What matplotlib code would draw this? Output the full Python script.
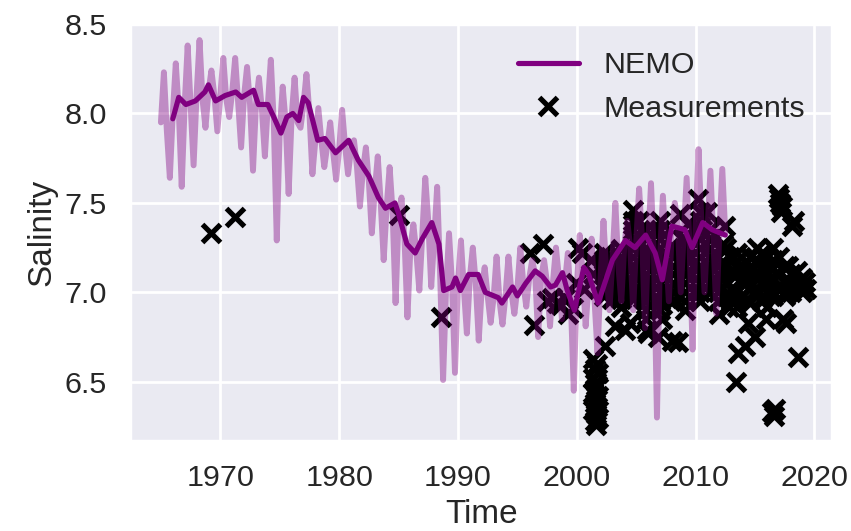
import numpy as np
import matplotlib
matplotlib.use("Agg")
import matplotlib.pyplot as plt
import seaborn as sns

# ---- NEMO monthly-ish raw series (quarter-year steps from 1965.0) ----
light_start = 1965.0
light_step = 0.25
light_v = [
    7.95, 8.23, 7.90, 7.64,   # 1965
    8.00, 8.28, 8.02, 7.59,   # 1966
    8.05, 8.38, 8.05, 7.71,   # 1967
    8.10, 8.41, 8.08, 7.92,   # 1968
    8.12, 8.24, 8.10, 7.90,   # 1969
    8.10, 8.31, 8.08, 7.98,   # 1970
    8.12, 8.31, 8.06, 7.81,   # 1971
    8.10, 8.26, 8.05, 7.68,   # 1972
    8.05, 8.20, 8.02, 7.76,   # 1973
    8.05, 8.30, 7.95, 7.29,   # 1974
    7.90, 8.15, 7.95, 7.55,   # 1975
    7.98, 8.20, 7.95, 7.92,   # 1976
    8.05, 8.22, 8.00, 7.66,   # 1977
    7.85, 8.03, 7.85, 7.70,   # 1978
    7.82, 7.95, 7.78, 7.63,   # 1979
    7.80, 8.02, 7.82, 7.66,   # 1980
    7.80, 7.85, 7.70, 7.48,   # 1981
    7.68, 7.81, 7.62, 7.33,   # 1982
    7.57, 7.76, 7.50, 7.18,   # 1983
    7.48, 7.70, 7.45, 6.94,   # 1984
    7.42, 7.53, 7.30, 6.86,   # 1985
    7.25, 7.38, 7.22, 7.01,   # 1986
    7.32, 7.64, 7.40, 7.03,   # 1987
    7.30, 7.59, 7.10, 6.51,   # 1988
    7.02, 7.33, 7.05, 6.55,   # 1989
    7.05, 7.29, 7.02, 6.77,   # 1990
    7.08, 7.25, 7.05, 6.73,   # 1991
    7.02, 7.14, 6.98, 6.83,   # 1992
    6.97, 7.20, 6.95, 6.82,   # 1993
    6.98, 7.20, 7.00, 6.88,   # 1994
    7.02, 7.25, 7.05, 6.92,   # 1995
    7.08, 7.18, 7.10, 6.75,   # 1996
    7.08, 7.18, 7.05, 6.81,   # 1997
    7.06, 7.25, 7.08, 6.85,   # 1998
    7.05, 7.22, 6.95, 6.45,   # 1999
    7.02, 7.32, 7.10, 6.81,   # 2000
    7.05, 7.30, 6.95, 6.66,   # 2001
    7.08, 7.40, 7.10, 6.90,   # 2002
    7.18, 7.50, 7.15, 6.95,   # 2003
    7.26, 7.40, 7.25, 6.90,   # 2004
    7.28, 7.58, 7.30, 6.80,   # 2005
    7.25, 7.61, 7.20, 6.30,   # 2006
    7.20, 7.54, 7.25, 6.95,   # 2007
    7.35, 7.50, 7.38, 7.00,   # 2008
    7.32, 7.64, 7.25, 6.68,   # 2009
    7.36, 7.80, 7.38, 7.00,   # 2010
    7.34, 7.68, 7.30, 6.88,   # 2011
    7.33, 7.69, 7.33,         # 2012
]

# ---- NEMO smoothed (running mean) ----
smooth_t = [1966.0, 1966.5, 1967.1, 1967.9, 1968.7, 1969.0, 1969.6, 1970.4, 1971.3,
            1971.8, 1972.8, 1973.2, 1974.0, 1974.5, 1975.1, 1975.6, 1976.1, 1976.6,
            1977.0, 1977.4, 1978.2, 1978.8, 1979.7, 1980.8, 1981.6, 1982.5, 1983.3,
            1983.9, 1984.7, 1985.0, 1985.7, 1986.4, 1987.0, 1987.8, 1988.4, 1988.8,
            1989.5, 1989.8, 1990.2, 1990.9, 1991.7, 1992.3, 1993.4, 1993.7, 1994.6,
            1995.0, 1995.7, 1996.5, 1997.1, 1997.8, 1998.2, 1998.8, 1999.2, 1999.8,
            2000.6, 2001.0, 2001.8, 2003.0, 2004.1, 2004.9, 2005.8, 2006.6, 2007.2,
            2008.0, 2008.6, 2009.1, 2009.7, 2010.6, 2011.4, 2012.5]
smooth_v = [7.97, 8.09, 8.05, 8.07, 8.12, 8.16, 8.07, 8.10, 8.12,
            8.09, 8.13, 8.05, 8.05, 7.98, 7.89, 7.98, 8.00, 7.96,
            8.09, 8.06, 7.85, 7.86, 7.78, 7.85, 7.74, 7.65, 7.53,
            7.47, 7.50, 7.44, 7.27, 7.22, 7.30, 7.39, 7.27, 7.01,
            7.03, 7.08, 7.01, 7.10, 7.10, 7.00, 6.97, 6.94, 7.03,
            6.98, 7.05, 7.12, 7.09, 7.03, 7.04, 7.11, 7.01, 6.90,
            7.14, 7.10, 6.94, 7.18, 7.29, 7.25, 7.32, 7.22, 7.07,
            7.37, 7.36, 7.35, 7.25, 7.39, 7.35, 7.32]

# ---- Measurements ----
meas_t = [
    1969.2, 1971.2, 1985.0, 1988.6,
    1996.1, 1996.4, 1997.2, 1997.5, 1997.9, 1998.3, 1998.7, 1999.0, 1999.3, 1999.7,
    1999.9, 2000.1, 2000.4, 2000.6, 2001.2, 2001.4,
    2001.4, 2001.7, 2001.5, 2001.8, 2001.4, 2001.6, 2001.7, 2001.5, 2001.4, 2001.8,
    2001.6, 2001.5, 2001.7, 2001.4, 2001.6, 2001.8, 2001.5, 2001.6,
    2002.4, 2002.4, 2002.6, 2002.8, 2003.0, 2003.2, 2003.5, 2003.6, 2003.8, 2004.1,
    2004.3, 2004.5, 2004.7, 2004.9, 2005.0, 2005.2, 2005.4, 2005.6, 2005.8, 2005.9,
    2006.0, 2006.3, 2006.5, 2006.6, 2006.8, 2007.2, 2007.3, 2007.5, 2007.6, 2007.8,
    2008.0, 2008.2, 2008.5, 2008.7, 2008.9, 2009.2, 2009.4, 2009.6, 2009.9, 2010.2,
    2010.5, 2010.8, 2011.0, 2011.3, 2011.6, 2011.8, 2012.0, 2012.3, 2012.5, 2012.8,
    2012.9, 2013.1, 2013.3, 2013.4, 2013.6, 2013.8, 2014.0, 2014.2, 2014.4, 2014.5,
    2014.7, 2015.0, 2015.1, 2015.2, 2015.4, 2015.6, 2015.8, 2015.9, 2016.1, 2016.3,
    2016.4, 2016.6, 2016.7, 2016.5, 2016.8, 2017.0, 2017.1, 2017.2, 2016.9, 2017.3,
    2017.4, 2017.5, 2017.6, 2017.8, 2018.0, 2018.1, 2018.3, 2018.6, 2018.8, 2019.0,
    2019.2, 2019.3,
    # dense profile columns
    2002.3, 2002.3, 2002.3, 2002.3, 2002.3, 2002.3, 2002.3,
    2003.7, 2003.7, 2003.7, 2003.7, 2003.7, 2003.7, 2003.7, 2003.7, 2003.7,
    2004.7, 2004.7, 2004.7, 2004.7, 2004.7, 2004.7, 2004.7, 2004.7, 2004.7, 2004.7,
    2005.8, 2005.8, 2005.8, 2005.8, 2005.8, 2005.8, 2005.8, 2005.8, 2005.8, 2005.8, 2005.8,
    2007.0, 2007.0, 2007.0, 2007.0, 2007.0, 2007.0, 2007.0, 2007.0, 2007.0, 2007.0, 2007.0,
    2008.1, 2008.1, 2008.1, 2008.1, 2008.1, 2008.1,
    2009.1, 2009.1, 2009.1, 2009.1, 2009.1, 2009.1, 2009.1, 2009.1, 2009.1,
    2010.4, 2010.4, 2010.4, 2010.4, 2010.4, 2010.4, 2010.4, 2010.4, 2010.4, 2010.4, 2010.4,
    2011.2, 2011.2, 2011.2, 2011.2, 2011.2, 2011.2, 2011.2, 2011.2,
    2011.9, 2011.9, 2011.9, 2011.9, 2011.9, 2011.9,
    # recent cluster
    2012.6, 2012.6, 2012.6, 2012.6, 2013.0, 2013.0, 2013.0,
    2013.5, 2013.5, 2013.5, 2013.5, 2014.0, 2014.0, 2014.0,
    2014.6, 2014.6, 2014.6, 2014.6, 2015.2, 2015.2, 2015.2,
    2015.6, 2015.6, 2015.6, 2015.6, 2016.0, 2016.0, 2016.0, 2016.0,
    2016.5, 2016.5, 2016.5, 2016.5, 2017.0, 2017.0, 2017.0,
    2017.5, 2017.5, 2017.5, 2018.0, 2018.0, 2018.5, 2018.5, 2019.0, 2019.0,
]
meas_v = [
    7.33, 7.42, 7.43, 6.86,
    7.22, 6.82, 7.27, 6.95, 6.97, 6.94, 6.93, 6.97, 6.88, 6.91,
    7.05, 7.25, 7.22, 7.02, 7.18, 7.10,
    6.63, 6.60, 6.57, 6.55, 6.52, 6.50, 6.48, 6.46, 6.44, 6.42,
    6.40, 6.38, 6.36, 6.34, 6.32, 6.30, 6.28, 6.26,
    6.70, 7.03, 7.08, 7.20, 6.96, 6.81, 7.05, 7.10, 6.98, 6.79,
    7.00, 6.83, 7.46, 7.30, 7.10, 7.40, 7.20, 6.97, 7.18, 6.79,
    6.77, 7.05, 7.35, 6.96, 6.75, 6.85, 7.20, 7.00, 6.97, 7.25,
    6.73, 7.25, 6.72, 7.44, 7.30, 7.10, 7.38, 7.20, 7.00, 7.52,
    7.35, 7.10, 7.45, 7.30, 7.05, 7.20, 6.88, 7.27, 7.37, 6.92,
    7.20, 7.10, 7.00, 6.50, 6.66, 7.20, 7.05, 6.70, 6.83, 6.95,
    7.15, 6.75, 7.00, 7.25, 7.10, 6.95, 7.20, 6.85, 7.05, 7.15,
    6.33, 6.31, 6.35, 7.00, 7.10, 7.53, 7.50, 7.45, 7.55, 7.48,
    6.85, 7.00, 6.83, 7.15, 7.05, 7.37, 7.40, 6.64, 7.07, 7.03,
    7.06, 7.02,
    # dense profile columns
    6.98, 7.02, 7.06, 7.10, 7.14, 7.18, 7.22,
    6.92, 6.96, 7.00, 7.04, 7.08, 7.12, 7.16, 7.20, 7.24,
    6.96, 7.00, 7.05, 7.10, 7.15, 7.20, 7.25, 7.30, 7.35, 7.40,
    6.85, 6.90, 6.95, 7.00, 7.05, 7.10, 7.15, 7.20, 7.25, 7.30, 7.35,
    6.90, 6.95, 7.00, 7.05, 7.10, 7.15, 7.20, 7.25, 7.30, 7.35, 7.40,
    6.95, 7.00, 7.05, 7.10, 7.15, 7.20,
    6.90, 6.95, 7.00, 7.05, 7.10, 7.15, 7.20, 7.25, 7.30,
    6.95, 7.00, 7.05, 7.10, 7.15, 7.20, 7.25, 7.30, 7.35, 7.40, 7.45,
    7.00, 7.05, 7.10, 7.15, 7.20, 7.25, 7.30, 7.35,
    6.95, 7.00, 7.05, 7.10, 7.15, 7.20,
    # recent cluster
    7.25, 7.15, 7.05, 6.98, 7.12, 7.02, 6.95,
    7.22, 7.10, 7.00, 6.92, 7.15, 7.08, 6.98,
    7.20, 7.12, 7.03, 6.94, 7.18, 7.10, 7.02,
    7.22, 7.14, 7.06, 6.97, 7.20, 7.10, 7.00, 6.92,
    7.25, 7.18, 7.08, 6.98, 7.20, 7.10, 7.02,
    7.15, 7.07, 6.98, 7.10, 7.00, 7.12, 7.05, 7.08, 7.00,
]

x_ticks = [1970, 1980, 1990, 2000, 2010, 2020]
y_ticks = [6.5, 7.0, 7.5, 8.0, 8.5]

sns.set_theme(style="darkgrid", context="talk")
plt.rcParams["font.family"] = ["Liberation Sans", "DejaVu Sans"]

fig = plt.figure(figsize=(6.4, 3.9925), dpi=133)
ax = fig.add_axes([130 / 851, 1 - 441 / 531, (832 - 130) / 851, (441 - 24) / 531])

light_t = light_start + light_step * np.arange(len(light_v))

ax.plot(meas_t, meas_v, linestyle="none", marker="x", color="black",
        markersize=10, markeredgewidth=2.8, label="Measurements", zorder=2)
ax.plot(light_t, light_v, color="purple", alpha=0.4, linewidth=3.2, zorder=3)
ax.plot(smooth_t, smooth_v, color="purple", linewidth=2.8, label="NEMO", zorder=4)

ax.set_xlim(1962.4, 2021.5)
ax.set_ylim(6.169, 8.495)
ax.set_xticks(x_ticks)
ax.set_yticks(y_ticks)
ax.set_xlabel("Time")
ax.set_ylabel("Salinity")

handles, labels = ax.get_legend_handles_labels()
order = [labels.index("NEMO"), labels.index("Measurements")]
ax.legend([handles[i] for i in order], [labels[i] for i in order],
          loc="upper right", frameon=False)

fig.savefig("out.png", dpi=133)
